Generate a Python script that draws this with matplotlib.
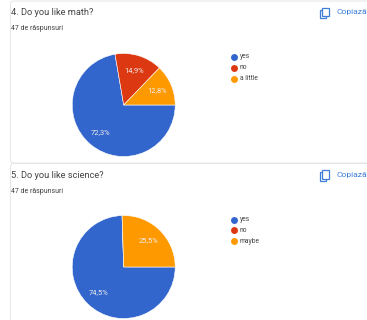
import matplotlib
matplotlib.use("Agg")
import matplotlib.pyplot as plt
from matplotlib.patches import FancyBboxPatch, Rectangle

plt.rcParams['font.family'] = ['Roboto', 'DejaVu Sans']

WIDTH, HEIGHT = 367, 320
COLORS = ['#3366cc', '#dc3912', '#ff9900']
INK = '#444444'
LINK = '#3f7fd8'
BORDER = '#e6e6e6'

math_title = '4. Do you like math?'
math_labels = ['yes', 'no', 'a little']
math_values = [72.3, 14.9, 12.8]

science_title = '5. Do you like science?'
science_labels = ['yes', 'no', 'maybe']
science_values = [74.5, 0, 25.5]

responses = '47 de răspunsuri'
copy_text = 'Copiază'


def pct(p):
    # zero slices get no label, decimals use a comma
    if p < 0.05:
        return ''
    return f'{p:.1f}'.replace('.', ',') + '%'


def draw_pie(fig, values, cx, cy, r):
    # axes box is given in pixels, y measured from the top
    box = [(cx - r) / WIDTH, 1 - (cy + r) / HEIGHT, 2 * r / WIDTH, 2 * r / HEIGHT]
    ax = fig.add_axes(box)
    ax.pie(values, colors=COLORS, startangle=0, counterclock=False, radius=1,
           autopct=pct, pctdistance=0.7,
           wedgeprops={'edgecolor': 'white', 'linewidth': 0.4},
           textprops={'color': '#eeeeee', 'fontsize': 5.4})
    ax.set_xlim(-1, 1)
    ax.set_ylim(-1, 1)
    ax.set_axis_off()


def draw_card(page, title, labels, top, bottom, title_dy):
    page.add_patch(FancyBboxPatch((10.5, top), 400, bottom - top,
                                  boxstyle='round,pad=0,rounding_size=3',
                                  fc='white', ec=BORDER, lw=0.7, clip_on=True))
    page.text(11, top + title_dy, title, fontsize=6.7, color=INK, va='center')
    page.text(11, top + 28, responses, fontsize=5.0, color=INK, va='center')

    # copy icon and link
    page.add_patch(Rectangle((319.8, top + 8.5), 6.5, 8.5, fc='white', ec=LINK, lw=0.9))
    page.add_patch(Rectangle((322, top + 6.5), 6.5, 8.8, fc='white', ec=LINK, lw=0.9))
    page.text(336.5, top + 11, copy_text, fontsize=6.1, color=LINK, va='center')

    # legend
    for i, label in enumerate(labels):
        y = top + 56 + i * 10.8
        page.scatter([234], [y], s=25, color=COLORS[i], linewidths=0)
        page.text(240, y, label, fontsize=4.9, color=INK, va='center')


fig = plt.figure(figsize=(WIDTH / 100, HEIGHT / 100), dpi=100, facecolor='white')

# page layer in pixel coordinates
page = fig.add_axes([0, 0, 1, 1])
page.set_xlim(0, WIDTH)
page.set_ylim(HEIGHT, 0)
page.set_axis_off()

draw_card(page, math_title, math_labels, 1, 163, 11.5)
draw_card(page, science_title, science_labels, 163.5, 340, 11.5)

draw_pie(fig, math_values, 123.7, 105, 51.5)
draw_pie(fig, science_values, 123.7, 267, 51.5)

fig.savefig('out.png', dpi=100)
